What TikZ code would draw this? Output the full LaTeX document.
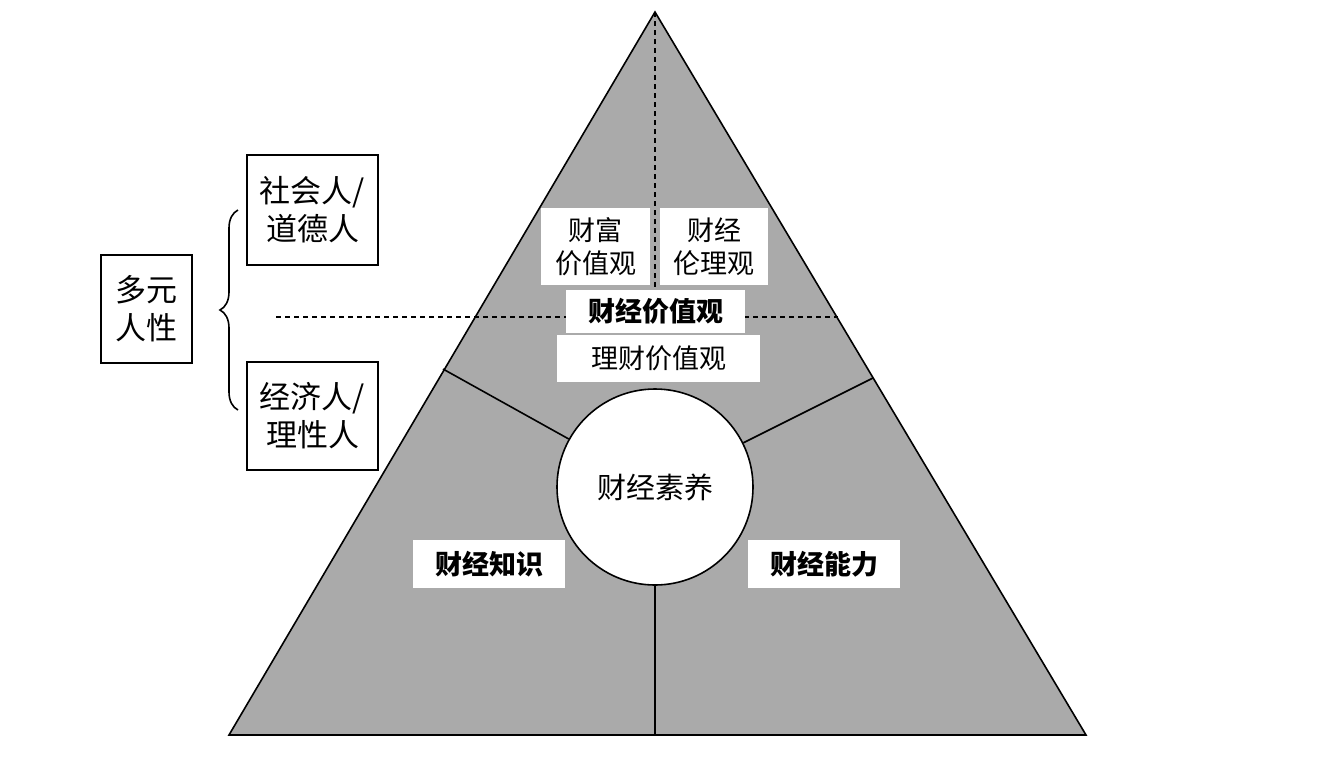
\documentclass[tikz,border=0pt]{standalone}
\usepackage{fontspec}
\setmainfont{Noto Sans CJK SC}
\usetikzlibrary{decorations.pathreplacing}
\tikzset{
 lbl/.style={fill=white,inner sep=0pt,font=\fontsize{27}{33}\selectfont,align=center},
 sidebox/.style={draw,line width=1.6pt,fill=white,inner sep=0pt,font=\fontsize{31}{38}\selectfont,align=center},
 dl/.style={line width=1.4pt,dashed,dash pattern=on 5pt off 4pt},
 ln/.style={line width=1.6pt}
}
\begin{document}
\begin{tikzpicture}[x=1pt,y=-1pt]
\useasboundingbox (0,0) rectangle (1342,764);
\coordinate (A) at (655,12); \coordinate (B) at (229,735); \coordinate (C) at (1086,735);
\draw[ln,fill={rgb,255:red,170;green,170;blue,170}] (A) -- (B) -- (C) -- cycle;
\coordinate (v1) at (655,290);
\draw[dl] (A) -- (v1);
\coordinate (h1) at (276,317); \coordinate (h2) at (838,317);
\draw[dl] (h1) -- (h2);
\node[circle,draw,ln,fill=white,minimum size=196pt,inner sep=0pt,font=\fontsize{29}{34}\selectfont] (c) at (655,487) {财经素养};
\coordinate (l1) at (443,369); \coordinate (r1) at (873,378); \coordinate (b1) at (655,735);
\draw[ln] (l1) -- (c); \draw[ln] (r1) -- (c); \draw[ln] (c.south) -- (b1);
\node[lbl,minimum width=109pt,minimum height=77pt] (w1) at (595.5,246.5) {财富\\价值观};
\node[lbl,minimum width=108pt,minimum height=77pt] (w2) at (714,246.5) {财经\\伦理观};
\node[lbl,minimum width=179pt,minimum height=43pt,font=\fontsize{27}{33}\selectfont\bfseries] (w3) at (655.5,311.5) {财经价值观};
\node[lbl,minimum width=203pt,minimum height=47pt] (w4) at (658.5,358.5) {理财价值观};
\node[lbl,minimum width=152pt,minimum height=48pt,font=\fontsize{27}{33}\selectfont\bfseries] (w5) at (489,564) {财经知识};
\node[lbl,minimum width=152pt,minimum height=48pt,font=\fontsize{27}{33}\selectfont\bfseries] (w6) at (824,564) {财经能力};
\node[sidebox,minimum width=91pt,minimum height=108pt] (m) at (146.5,309) {多元\\人性};
\node[sidebox,minimum width=131pt,minimum height=110pt] (s1) at (312.5,210) {社会人/\\道德人};
\node[sidebox,minimum width=131pt,minimum height=108pt] (s2) at (312.5,416) {经济人/\\理性人};
\coordinate (bt) at (238,210); \coordinate (bb) at (238,410);
\draw[ln,decorate,decoration={brace,amplitude=18pt}] (bb) -- (bt);
\end{tikzpicture}
\end{document}
